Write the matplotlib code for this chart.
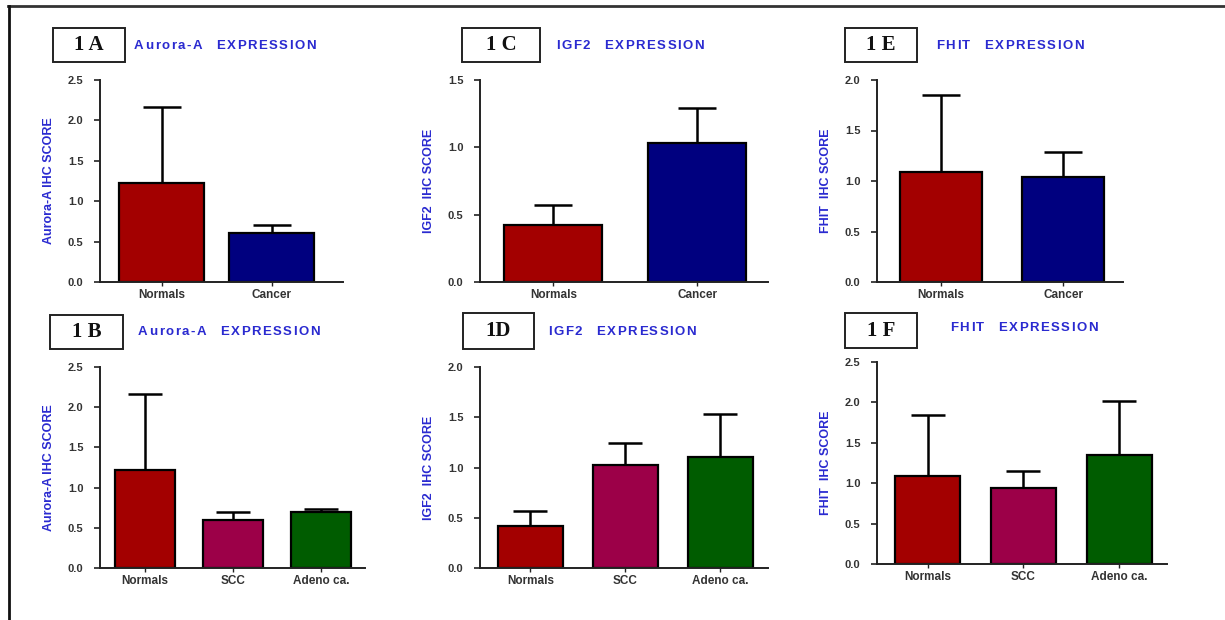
import matplotlib
matplotlib.use('Agg')
import matplotlib.pyplot as plt
from matplotlib.patches import Rectangle
from matplotlib.lines import Line2D

# ---- data ----
cats_two = ['Normals', 'Cancer']
cats_three = ['Normals', 'SCC', 'Adeno ca.']

aurora_a = [1.22, 0.61]
aurora_a_err = [0.95, 0.09]
igf2_c = [0.42, 1.03]
igf2_c_err = [0.15, 0.26]
fhit_e = [1.09, 1.04]
fhit_e_err = [0.76, 0.25]

aurora_b = [1.22, 0.60, 0.70]
aurora_b_err = [0.95, 0.10, 0.04]
igf2_d = [0.42, 1.02, 1.10]
igf2_d_err = [0.15, 0.22, 0.43]
fhit_f = [1.09, 0.94, 1.35]
fhit_f_err = [0.76, 0.21, 0.67]

RED = '#a30000'
BLUE = '#00007f'
MAROON = '#9c0048'
GREEN = '#005c00'
LBL = '#2a2ad0'

W, H = 1225, 620
fig = plt.figure(figsize=(W / 100, H / 100), dpi=100)
fig.patch.set_facecolor('white')
renderer = fig.canvas.get_renderer()

# outer frame (top + left)
fig.add_artist(Line2D([8 / W, 1], [1 - 5.5 / H, 1 - 5.5 / H], color='#333333', lw=2))
fig.add_artist(Line2D([8.5 / W, 8.5 / W], [0, 1 - 5.5 / H], color='#111111', lw=2))


def spaced_text(x, y, s, gap, **kw):
    # draw letter by letter, pixels, to get the wide tracking of the original
    for ch in s:
        t = fig.text(x / W, 1 - y / H, ch, ha='left', va='center', **kw)
        w = t.get_window_extent(renderer).width if ch != ' ' else 5
        x += w + gap


def panel(box, vals, errs, cats, colors, ymax, yticks, xlim, width, ylabel,
          tag, tagbox, title, title_xy, capsize):
    x0, x1, ytop, ybot = box
    ax = fig.add_axes([x0 / W, 1 - ybot / H, (x1 - x0) / W, (ybot - ytop) / H])
    pos = list(range(len(vals)))
    ax.bar(pos, vals, width=width, color=colors, edgecolor='black', lw=1.6, zorder=2)
    ax.errorbar(pos, vals, yerr=[[0] * len(vals), errs], fmt='none', ecolor='black',
                elinewidth=1.8, capsize=capsize, capthick=1.8, zorder=1)
    ax.set_ylim(0, ymax)
    ax.set_xlim(*xlim)
    ax.set_yticks(yticks)
    ax.set_yticklabels(['%.1f' % t for t in yticks])
    ax.set_xticks(pos)
    ax.set_xticklabels(cats)
    for s in ['top', 'right']:
        ax.spines[s].set_visible(False)
    for s in ['left', 'bottom']:
        ax.spines[s].set_color('#222222')
        ax.spines[s].set_linewidth(1.4)
    ax.tick_params(axis='y', length=4, width=1.2, colors='#222222', labelsize=8, pad=8)
    ax.tick_params(axis='x', length=3, width=1.0, colors='#222222', labelsize=8.5, pad=2)
    for t in ax.get_yticklabels() + ax.get_xticklabels():
        t.set_fontweight('bold')
        t.set_color('#333333')
        t.set_family('Liberation Sans')
    ax.set_ylabel(ylabel, color=LBL, fontsize=9, fontweight='bold',
                  family='Liberation Sans', labelpad=9)
    # tag box
    bx0, bx1, by0, by1 = tagbox
    fig.add_artist(Rectangle((bx0 / W, 1 - by1 / H), (bx1 - bx0) / W, (by1 - by0) / H,
                             transform=fig.transFigure, fill=False, ec='#222222', lw=1.4))
    fig.text((bx0 + bx1) / 2 / W, 1 - (by0 + by1) / 2 / H, tag, ha='center', va='center',
             fontsize=15, fontweight='bold', family='Liberation Serif', color='#111111')
    spaced_text(title_xy[0], title_xy[1], title, 1.5, fontsize=9.5, fontweight='bold',
                family='Liberation Sans', color=LBL)
    return ax


panel((100, 343, 80, 282), aurora_a, aurora_a_err, cats_two, [RED, BLUE], 2.5,
      [0, 0.5, 1.0, 1.5, 2.0, 2.5], (-0.56, 1.65), 0.78, 'Aurora-A IHC SCORE',
      '1 A', (53, 125, 28, 62), 'Aurora-A  EXPRESSION', (134, 46), 14)
panel((480, 768, 80, 282), igf2_c, igf2_c_err, cats_two, [RED, BLUE], 1.5,
      [0, 0.5, 1.0, 1.5], (-0.51, 1.49), 0.68, 'IGF2  IHC SCORE',
      '1 C', (462, 540, 28, 62), 'IGF2  EXPRESSION', (556, 46), 14)
panel((877, 1123, 80, 282), fhit_e, fhit_e_err, cats_two, [RED, BLUE], 2.0,
      [0, 0.5, 1.0, 1.5, 2.0], (-0.52, 1.49), 0.67, 'FHIT  IHC SCORE',
      '1 E', (845, 917, 28, 62), 'FHIT  EXPRESSION', (936, 46), 14)

panel((100, 365, 367, 568), aurora_b, aurora_b_err, cats_three, [RED, MAROON, GREEN], 2.5,
      [0, 0.5, 1.0, 1.5, 2.0, 2.5], (-0.51, 2.5), 0.68, 'Aurora-A IHC SCORE',
      '1 B', (50, 123, 315, 349), 'Aurora-A  EXPRESSION', (138, 332), 12)
panel((480, 768, 367, 568), igf2_d, igf2_d_err, cats_three, [RED, MAROON, GREEN], 2.0,
      [0, 0.5, 1.0, 1.5, 2.0], (-0.53, 2.5), 0.68, 'IGF2  IHC SCORE',
      '1D', (463, 534, 313, 349), 'IGF2  EXPRESSION', (548, 332), 12)
panel((877, 1167, 362, 564), fhit_f, fhit_f_err, cats_three, [RED, MAROON, GREEN], 2.5,
      [0, 0.5, 1.0, 1.5, 2.0, 2.5], (-0.53, 2.5), 0.68, 'FHIT  IHC SCORE',
      '1 F', (845, 917, 313, 348), 'FHIT  EXPRESSION', (950, 328), 12)

fig.savefig('out.png', dpi=100)
